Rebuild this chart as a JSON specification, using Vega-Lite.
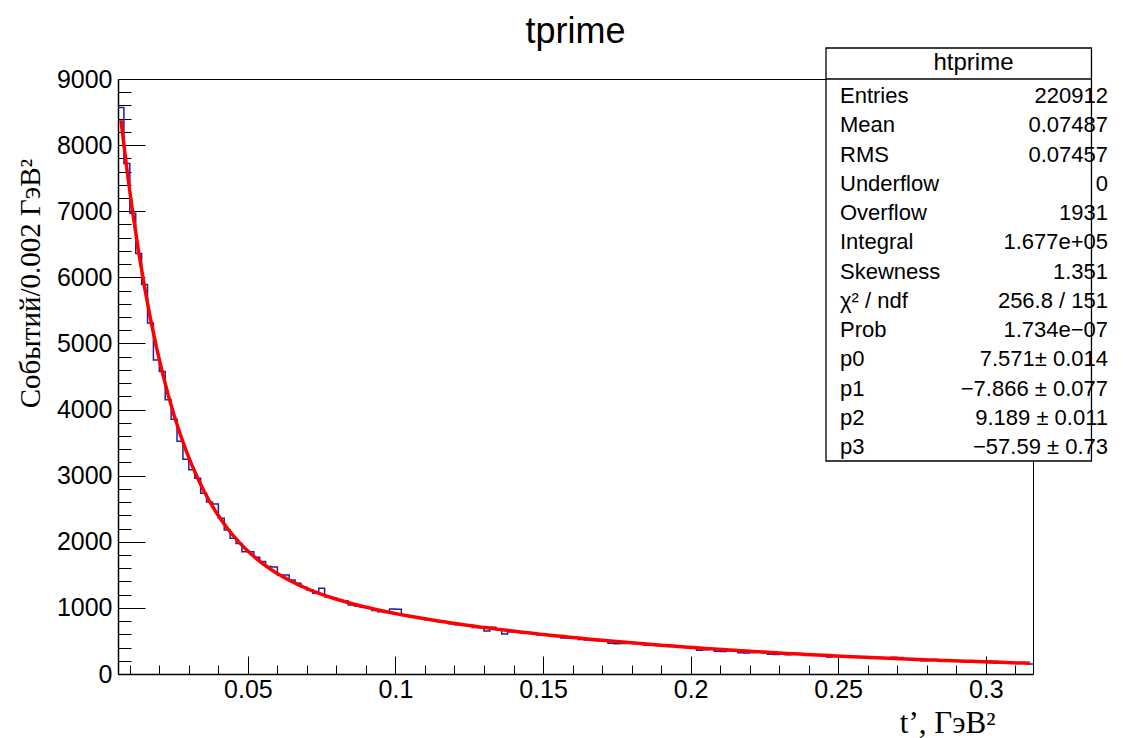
{
  "$schema": "https://vega.github.io/schema/vega-lite/v6.json",
  "width": 915,
  "height": 595,
  "autosize": {"type": "none"},
  "padding": {"left": 118, "top": 79, "right": 90, "bottom": 64},
  "background": "#ffffff",
  "title": {"text": "tprime", "font": "Liberation Sans", "fontSize": 36, "fontWeight": "normal", "color": "#000000", "anchor": "middle", "baseline": "alphabetic", "offset": -32, "frame": "group"},
  "config": {
    "view": {"stroke": "#000000", "strokeWidth": 1},
    "axis": {"domainColor": "#000000", "domainWidth": 1.5, "tickColor": "#000000", "tickWidth": 1, "labelColor": "#000000", "labelFont": "Liberation Sans", "labelFontSize": 25, "titleFont": "Liberation Serif", "titleFontWeight": "normal", "titleColor": "#000000", "titleFontSize": 29, "grid": false, "labelFlush": false, "labelOverlap": false}
  },
  "datasets": {
    "hist": [{"t":0.006,"n":8570},{"t":0.008,"n":7720},{"t":0.01,"n":6970},{"t":0.012,"n":6360},{"t":0.014,"n":5890},{"t":0.016,"n":5310},{"t":0.018,"n":4750},{"t":0.02,"n":4575},{"t":0.022,"n":4150},{"t":0.024,"n":3855},{"t":0.026,"n":3520},{"t":0.028,"n":3250},{"t":0.03,"n":3090},{"t":0.032,"n":2960},{"t":0.034,"n":2735},{"t":0.036,"n":2600},{"t":0.038,"n":2570},{"t":0.04,"n":2355},{"t":0.042,"n":2180},{"t":0.044,"n":2055},{"t":0.046,"n":1975},{"t":0.048,"n":1850},{"t":0.05,"n":1850},{"t":0.052,"n":1765},{"t":0.054,"n":1700},{"t":0.056,"n":1625},{"t":0.058,"n":1620},{"t":0.06,"n":1498},{"t":0.062,"n":1498},{"t":0.064,"n":1422},{"t":0.066,"n":1372},{"t":0.068,"n":1311},{"t":0.07,"n":1271},{"t":0.072,"n":1221},{"t":0.074,"n":1296},{"t":0.076,"n":1170},{"t":0.078,"n":1145},{"t":0.08,"n":1120},{"t":0.082,"n":1105},{"t":0.084,"n":1045},{"t":0.086,"n":1030},{"t":0.088,"n":1010},{"t":0.09,"n":995},{"t":0.092,"n":960},{"t":0.094,"n":940},{"t":0.096,"n":930},{"t":0.098,"n":985},{"t":0.1,"n":980},{"t":0.102,"n":892},{"t":0.104,"n":880},{"t":0.106,"n":857},{"t":0.108,"n":845},{"t":0.11,"n":820},{"t":0.112,"n":815},{"t":0.114,"n":795},{"t":0.116,"n":785},{"t":0.118,"n":760},{"t":0.12,"n":745},{"t":0.122,"n":740},{"t":0.124,"n":738},{"t":0.126,"n":705},{"t":0.128,"n":700},{"t":0.13,"n":650},{"t":0.132,"n":706},{"t":0.134,"n":670},{"t":0.136,"n":605},{"t":0.138,"n":640},{"t":0.14,"n":638},{"t":0.142,"n":625},{"t":0.144,"n":620},{"t":0.146,"n":615},{"t":0.148,"n":590},{"t":0.15,"n":592},{"t":0.152,"n":585},{"t":0.154,"n":578},{"t":0.156,"n":545},{"t":0.158,"n":545},{"t":0.16,"n":540},{"t":0.162,"n":520},{"t":0.164,"n":515},{"t":0.166,"n":505},{"t":0.168,"n":502},{"t":0.17,"n":500},{"t":0.172,"n":465},{"t":0.174,"n":458},{"t":0.176,"n":462},{"t":0.178,"n":470},{"t":0.18,"n":460},{"t":0.182,"n":455},{"t":0.184,"n":440},{"t":0.186,"n":440},{"t":0.188,"n":430},{"t":0.19,"n":420},{"t":0.192,"n":415},{"t":0.194,"n":418},{"t":0.196,"n":410},{"t":0.198,"n":405},{"t":0.2,"n":398},{"t":0.202,"n":360},{"t":0.204,"n":365},{"t":0.206,"n":376},{"t":0.208,"n":345},{"t":0.21,"n":340},{"t":0.212,"n":350},{"t":0.214,"n":348},{"t":0.216,"n":320},{"t":0.218,"n":318},{"t":0.22,"n":325},{"t":0.222,"n":330},{"t":0.224,"n":320},{"t":0.226,"n":300},{"t":0.228,"n":296},{"t":0.23,"n":298},{"t":0.232,"n":290},{"t":0.234,"n":300},{"t":0.236,"n":302},{"t":0.238,"n":296},{"t":0.24,"n":288},{"t":0.242,"n":282},{"t":0.244,"n":285},{"t":0.246,"n":258},{"t":0.248,"n":270},{"t":0.25,"n":268},{"t":0.252,"n":262},{"t":0.254,"n":258},{"t":0.256,"n":255},{"t":0.258,"n":252},{"t":0.26,"n":247},{"t":0.262,"n":244},{"t":0.264,"n":240},{"t":0.266,"n":236},{"t":0.268,"n":252},{"t":0.27,"n":250},{"t":0.272,"n":226},{"t":0.274,"n":224},{"t":0.276,"n":218},{"t":0.278,"n":200},{"t":0.28,"n":212},{"t":0.282,"n":208},{"t":0.284,"n":205},{"t":0.286,"n":202},{"t":0.288,"n":199},{"t":0.29,"n":196},{"t":0.292,"n":192},{"t":0.294,"n":190},{"t":0.296,"n":186},{"t":0.298,"n":184},{"t":0.3,"n":195},{"t":0.302,"n":193},{"t":0.304,"n":178},{"t":0.306,"n":172},{"t":0.308,"n":170},{"t":0.31,"n":168},{"t":0.312,"n":164},{"t":0.314,"n":152},{"t":0.316,"n":152}],
    "fit": [{"t":0.007,"f":8378},{"t":0.009,"f":7637},{"t":0.011,"f":6975},{"t":0.013,"f":6382},{"t":0.015,"f":5851},{"t":0.017,"f":5375},{"t":0.019,"f":4948},{"t":0.021,"f":4566},{"t":0.023,"f":4222},{"t":0.025,"f":3914},{"t":0.027,"f":3637},{"t":0.029,"f":3387},{"t":0.031,"f":3163},{"t":0.033,"f":2960},{"t":0.035,"f":2778},{"t":0.037,"f":2613},{"t":0.039,"f":2464},{"t":0.041,"f":2329},{"t":0.043,"f":2207},{"t":0.045,"f":2095},{"t":0.047,"f":1994},{"t":0.049,"f":1902},{"t":0.051,"f":1819},{"t":0.053,"f":1742},{"t":0.055,"f":1671},{"t":0.057,"f":1607},{"t":0.059,"f":1548},{"t":0.061,"f":1493},{"t":0.063,"f":1443},{"t":0.065,"f":1396},{"t":0.067,"f":1352},{"t":0.069,"f":1312},{"t":0.071,"f":1274},{"t":0.073,"f":1239},{"t":0.075,"f":1206},{"t":0.077,"f":1175},{"t":0.079,"f":1146},{"t":0.081,"f":1119},{"t":0.083,"f":1093},{"t":0.085,"f":1068},{"t":0.087,"f":1044},{"t":0.089,"f":1022},{"t":0.091,"f":1001},{"t":0.093,"f":980},{"t":0.095,"f":961},{"t":0.097,"f":942},{"t":0.099,"f":924},{"t":0.101,"f":906},{"t":0.103,"f":889},{"t":0.105,"f":873},{"t":0.107,"f":857},{"t":0.109,"f":842},{"t":0.111,"f":827},{"t":0.113,"f":813},{"t":0.115,"f":799},{"t":0.117,"f":785},{"t":0.119,"f":772},{"t":0.121,"f":759},{"t":0.123,"f":746},{"t":0.125,"f":733},{"t":0.127,"f":721},{"t":0.129,"f":709},{"t":0.131,"f":698},{"t":0.133,"f":687},{"t":0.135,"f":675},{"t":0.137,"f":664},{"t":0.139,"f":654},{"t":0.141,"f":643},{"t":0.143,"f":633},{"t":0.145,"f":623},{"t":0.147,"f":613},{"t":0.149,"f":603},{"t":0.151,"f":593},{"t":0.153,"f":584},{"t":0.155,"f":575},{"t":0.157,"f":566},{"t":0.159,"f":557},{"t":0.161,"f":548},{"t":0.163,"f":539},{"t":0.165,"f":531},{"t":0.167,"f":522},{"t":0.169,"f":514},{"t":0.171,"f":506},{"t":0.173,"f":498},{"t":0.175,"f":490},{"t":0.177,"f":483},{"t":0.179,"f":475},{"t":0.181,"f":468},{"t":0.183,"f":460},{"t":0.185,"f":453},{"t":0.187,"f":446},{"t":0.189,"f":439},{"t":0.191,"f":432},{"t":0.193,"f":426},{"t":0.195,"f":419},{"t":0.197,"f":412},{"t":0.199,"f":406},{"t":0.201,"f":400},{"t":0.203,"f":393},{"t":0.205,"f":387},{"t":0.207,"f":381},{"t":0.209,"f":375},{"t":0.211,"f":369},{"t":0.213,"f":363},{"t":0.215,"f":358},{"t":0.217,"f":352},{"t":0.219,"f":347},{"t":0.221,"f":341},{"t":0.223,"f":336},{"t":0.225,"f":331},{"t":0.227,"f":326},{"t":0.229,"f":320},{"t":0.231,"f":315},{"t":0.233,"f":311},{"t":0.235,"f":306},{"t":0.237,"f":301},{"t":0.239,"f":296},{"t":0.241,"f":292},{"t":0.243,"f":287},{"t":0.245,"f":283},{"t":0.247,"f":278},{"t":0.249,"f":274},{"t":0.251,"f":270},{"t":0.253,"f":265},{"t":0.255,"f":261},{"t":0.257,"f":257},{"t":0.259,"f":253},{"t":0.261,"f":249},{"t":0.263,"f":245},{"t":0.265,"f":241},{"t":0.267,"f":238},{"t":0.269,"f":234},{"t":0.271,"f":230},{"t":0.273,"f":227},{"t":0.275,"f":223},{"t":0.277,"f":220},{"t":0.279,"f":216},{"t":0.281,"f":213},{"t":0.283,"f":210},{"t":0.285,"f":206},{"t":0.287,"f":203},{"t":0.289,"f":200},{"t":0.291,"f":197},{"t":0.293,"f":194},{"t":0.295,"f":191},{"t":0.297,"f":188},{"t":0.299,"f":185},{"t":0.301,"f":182},{"t":0.303,"f":179},{"t":0.305,"f":176},{"t":0.307,"f":174},{"t":0.309,"f":171},{"t":0.311,"f":168},{"t":0.313,"f":166},{"t":0.315,"f":163}],
    "stats": [{"k":"Entries","v":"220912"},{"k":"Mean","v":"0.07487"},{"k":"RMS","v":"0.07457"},{"k":"Underflow","v":"0"},{"k":"Overflow","v":"1931"},{"k":"Integral","v":"1.677e+05"},{"k":"Skewness","v":"1.351"},{"k":"χ² / ndf","v":"256.8 / 151"},{"k":"Prob","v":"1.734e−07"},{"k":"p0","v":"7.571± 0.014"},{"k":"p1","v":"−7.866 ± 0.077"},{"k":"p2","v":"9.189 ± 0.011"},{"k":"p3","v":"−57.59 ± 0.73"}]
  },
  "resolve": {"scale": {"y": "independent"}},
  "layer": [
    {
      "layer": [
        {
          "data": {"name": "hist"},
          "mark": {"type": "line", "interpolate": "step-after", "color": "#2020a0", "strokeWidth": 1.5},
          "encoding": {
            "x": {"field": "t", "type": "quantitative",
              "scale": {"domain": [0.006, 0.316], "nice": false, "zero": false},
              "axis": {
                "values": [0.01,0.02,0.03,0.04,0.05,0.06,0.07,0.08,0.09,0.1,0.11,0.12,0.13,0.14,0.15,0.16,0.17,0.18,0.19,0.2,0.21,0.22,0.23,0.24,0.25,0.26,0.27,0.28,0.29,0.3,0.31],
                "tickCount": 500,
                "labelExpr": "abs(datum.value*20 - round(datum.value*20)) < 0.001 ? format(datum.value, '~g') : ''",
                "labelOverlap": false,
                "labelFlush": false,
                "labelBound": false,
                "tickSize": {"condition": {"test": "abs(datum.value*20 - round(datum.value*20)) < 0.001", "value": -18}, "value": -9},
                "labelPadding": 21,
                "title": "t’, ГэВ²",
                "titleFontSize": 31,
                "titleX": 877, "titleY": 58, "titleAlign": "right", "titleBaseline": "alphabetic"
              }
            },
            "y": {"field": "n", "type": "quantitative",
              "scale": {"domain": [0, 9000], "nice": false, "zero": true},
              "axis": {
                "values": [0,200,400,600,800,1000,1200,1400,1600,1800,2000,2200,2400,2600,2800,3000,3200,3400,3600,3800,4000,4200,4400,4600,4800,5000,5200,5400,5600,5800,6000,6200,6400,6600,6800,7000,7200,7400,7600,7800,8000,8200,8400,8600,8800,9000],
                "tickCount": 500,
                "labelExpr": "datum.value % 1000 === 0 ? format(datum.value, 'd') : ''",
                "labelOverlap": false,
                "labelFlush": false,
                "labelBound": false,
                "tickSize": {"condition": {"test": "datum.value % 1000 === 0", "value": -27}, "value": -13},
                "labelPadding": 33,
                "title": "Событий/0.002 ГэВ²",
                "titleX": -88, "titleY": 204, "titleAlign": "center", "titleBaseline": "middle", "titleAngle": -90
              }
            }
          }
        },
        {
          "data": {"name": "fit"},
          "mark": {"type": "line", "color": "#ff0000", "strokeWidth": 3.5},
          "encoding": {
            "x": {"field": "t", "type": "quantitative"},
            "y": {"field": "f", "type": "quantitative"}
          }
        },
        {
          "data": {"values": [{}]},
          "mark": {"type": "rect", "fill": "#ffffff", "stroke": "#000000", "strokeWidth": 1.3},
          "encoding": {
            "x": {"datum": 0.24587}, "x2": {"datum": 0.33581},
            "y": {"datum": 9469}, "y2": {"datum": 3222}
          }
        },
        {
          "data": {"values": [{}]},
          "mark": {"type": "rule", "color": "#000000", "strokeWidth": 1.3},
          "encoding": {
            "x": {"datum": 0.24587}, "x2": {"datum": 0.33581},
            "y": {"datum": 9000}
          }
        },
        {
          "data": {"values": [{}]},
          "mark": {"type": "text", "text": "htprime", "font": "Liberation Sans", "fontSize": 24, "align": "center", "baseline": "middle", "color": "#000000"},
          "encoding": {
            "x": {"datum": 0.29584},
            "y": {"datum": 9242}
          }
        }
      ]
    },
    {
      "data": {"name": "stats"},
      "layer": [
        {
          "mark": {"type": "text", "align": "left", "baseline": "middle", "font": "Liberation Sans", "fontSize": 22, "color": "#000000"},
          "encoding": {
            "x": {"datum": 0.25061},
            "y": {"field": "k", "type": "ordinal", "scale": {"type": "point", "domain": ["Entries","Mean","RMS","Underflow","Overflow","Integral","Skewness","χ² / ndf","Prob","p0","p1","p2","p3"], "range": [17, 368], "padding": 0}, "axis": null},
            "text": {"field": "k"}
          }
        },
        {
          "mark": {"type": "text", "align": "right", "baseline": "middle", "font": "Liberation Sans", "fontSize": 22, "color": "#000000"},
          "encoding": {
            "x": {"datum": 0.34141},
            "y": {"field": "k", "type": "ordinal", "scale": {"type": "point", "domain": ["Entries","Mean","RMS","Underflow","Overflow","Integral","Skewness","χ² / ndf","Prob","p0","p1","p2","p3"], "range": [17, 368], "padding": 0}, "axis": null},
            "text": {"field": "v"}
          }
        }
      ]
    }
  ]
}
